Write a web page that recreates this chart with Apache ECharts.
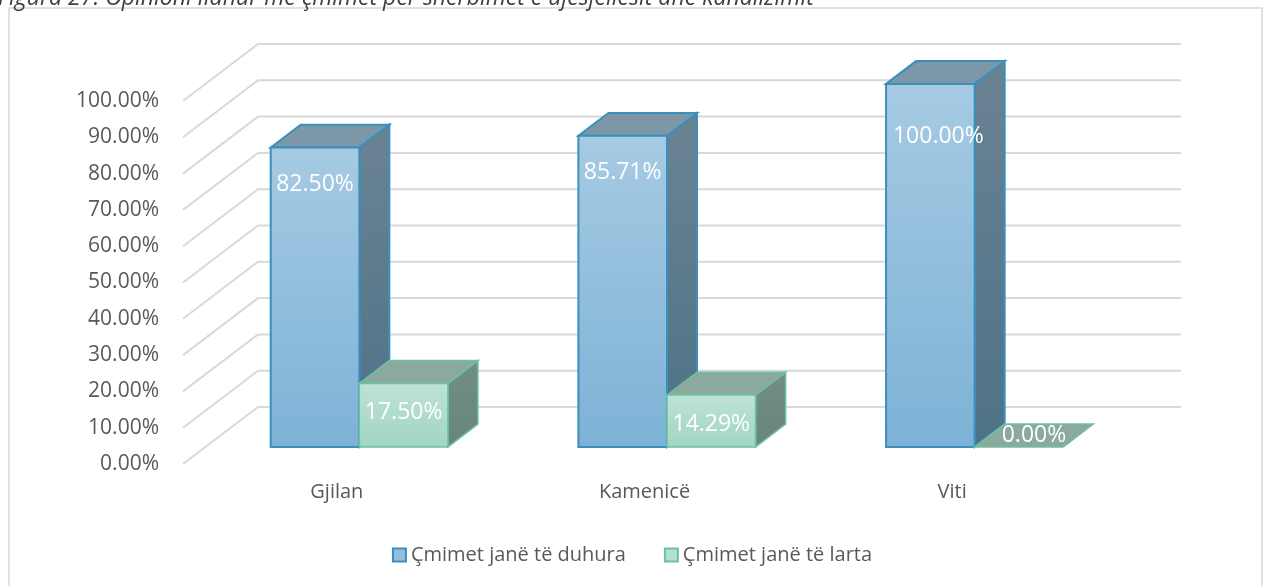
<!DOCTYPE html>
<html>
<head>
<meta charset="utf-8">
<script src="https://cdn.jsdelivr.net/npm/echarts@6/dist/echarts.min.js"></script>
<style>
	html, body { margin: 0; padding: 0; background: #fff; overflow: hidden; }
	#report_chart { width: 1264px; height: 586px; }
</style>
</head>
<body>
<div id="report_chart"></div>
<script>
var categories = ['Gjilan', 'Kamenicë', 'Viti'];
var seriesNames = ['Çmimet janë të duhura', 'Çmimet janë të larta'];
var duhura = [82.50, 85.71, 100.00];
var larta = [17.50, 14.29, 0.00];
var yTicks = [0, 10, 20, 30, 40, 50, 60, 70, 80, 90, 100];
var caption = 'Figura 27: Opinioni lidhur me çmimet për shërbimet e ujësjellësit dhe kanalizimit';

// oblique depth of the floor, and where the bars sit inside it
var DX = 75, DY = -57;
var F0 = 0.3, DEP = 0.4;
var FONT = '"Open Sans", sans-serif';

var faces = [
	{ front: ['#a6cae3', '#7db2d6'], side: ['#6a8393', '#4e7287'], top: '#7b97a8', edge: '#3a8fbd', lw: 2, dy: 37 },
	{ front: ['#bee3d6', '#a1d5c2'], side: ['#738f84', '#67857a'], top: '#8ba99c', edge: '#6cc1a2', lw: 1.5, dy: 29 }
];

function grad(c) {
	return new echarts.graphic.LinearGradient(0, 0, 0, 1, [
		{ offset: 0, color: c[0] },
		{ offset: 1, color: c[1] }
	]);
}

function wallItem(params, api) {
	var cs = params.coordSys;
	var y = api.coord([0, api.value(1)])[1];
	return {
		type: 'polyline',
		shape: { points: [[cs.x, y], [cs.x + DX, y + DY], [cs.x + cs.width + DX, y + DY]] },
		style: { stroke: '#d9d9d9', lineWidth: 2, fill: null },
		silent: true
	};
}

function barRenderer(sIdx) {
	var f = faces[sIdx];
	return function (params, api) {
		var cs = params.coordSys;
		var idx = api.value(0), v = api.value(1);
		var base = api.coord([idx, 0]);
		var topP = api.coord([idx, v]);
		var band = api.size([1, 0])[0];
		var w = band * 0.288;
		var x0 = base[0] - w + sIdx * w + F0 * DX;
		var yb = base[1] + F0 * DY;
		var yt = topP[1] + F0 * DY;
		var dx = DEP * DX, dy = DEP * DY;
		var lx = x0 + w / 2, ly = Math.max(yt + f.dy, cs.y + 35);
		if (ly > yt + f.dy) {
			lx += 8;
		}
		if (v === 0) {
			lx = x0 + w / 2 + dx / 2;
			ly = yb + dy / 2;
		}
		var children = [];
		if (yb - yt > 0.5) {
			children.push({
				type: 'polygon',
				shape: { points: [[x0 + w, yt], [x0 + w + dx, yt + dy], [x0 + w + dx, yb + dy], [x0 + w, yb]] },
				style: { fill: grad(f.side), stroke: f.edge, lineWidth: f.lw }
			});
		}
		children.push({
			type: 'polygon',
			shape: { points: [[x0, yt], [x0 + dx, yt + dy], [x0 + w + dx, yt + dy], [x0 + w, yt]] },
			style: { fill: f.top, stroke: f.edge, lineWidth: f.lw }
		});
		if (yb - yt > 0.5) {
			children.push({
				type: 'rect',
				shape: { x: x0, y: yt, width: w, height: yb - yt },
				style: { fill: grad(f.front), stroke: f.edge, lineWidth: f.lw }
			});
		}
		children.push({
			type: 'text',
			x: lx,
			y: ly,
			style: {
				text: v.toFixed(2) + '%',
				fill: '#ffffff',
				font: '23px ' + FONT,
				align: 'center',
				verticalAlign: 'middle'
			}
		});
		return { type: 'group', children: children };
	};
}

function initChart() {
	var dataA = duhura.map(function (v, i) { return [i, v]; });
	var dataB = larta.map(function (v, i) { return [i, v]; });
	var wallData = yTicks.map(function (v) { return [0, v]; });

	var option = {
		animation: false,
		backgroundColor: '#ffffff',
		textStyle: { fontFamily: FONT },
		graphic: [ {
			type: 'rect',
			shape: { x: 9, y: 8, width: 1253, height: 620 },
			style: { fill: null, stroke: '#d9d9d9', lineWidth: 1.5 },
			silent: true
		}, {
			type: 'text',
			x: -2,
			y: 10,
			style: {
				text: caption,
				font: 'italic 23px ' + FONT,
				fill: '#404040',
				align: 'left',
				verticalAlign: 'bottom'
			},
			silent: true
		} ],
		grid: {
			left: 183,
			right: 158,
			top: 101,
			bottom: 122
		},
		legend: {
			left: 'center',
			top: 540,
			icon: 'rect',
			itemWidth: 13,
			itemHeight: 13,
			itemGap: 38,
			textStyle: { color: '#595959', fontSize: 20, fontFamily: FONT },
			data: [
				{ name: seriesNames[0], itemStyle: { color: '#93bfdd', borderColor: faces[0].edge, borderWidth: 2 } },
				{ name: seriesNames[1], itemStyle: { color: '#b3ded0', borderColor: faces[1].edge, borderWidth: 2 } }
			]
		},
		xAxis: [ {
			type: 'category',
			data: categories,
			axisLine: { show: false },
			axisTick: { show: false },
			axisLabel: { color: '#595959', fontSize: 20, margin: 18, fontFamily: FONT }
		} ],
		yAxis: [ {
			type: 'value',
			min: 0,
			max: 100,
			interval: 10,
			axisLine: { show: false },
			axisTick: { show: false },
			splitLine: { show: false },
			axisLabel: {
				color: '#595959',
				fontSize: 21,
				margin: 24,
				fontFamily: FONT,
				formatter: function (v) { return v.toFixed(2) + '%'; }
			}
		} ],
		series: [ {
			name: 'wall',
			type: 'custom',
			silent: true,
			z: 1,
			renderItem: wallItem,
			data: wallData
		}, {
			name: seriesNames[0],
			type: 'custom',
			z: 2,
			itemStyle: { color: '#93bfdd', borderColor: faces[0].edge, borderWidth: 2 },
			renderItem: barRenderer(0),
			data: dataA
		}, {
			name: seriesNames[1],
			type: 'custom',
			z: 2,
			itemStyle: { color: '#b3ded0', borderColor: faces[1].edge, borderWidth: 2 },
			renderItem: barRenderer(1),
			data: dataB
		} ]
	};

	var myChart = echarts.init(document.getElementById('report_chart'));
	myChart.setOption(option);
	window.myChart = myChart;

	window.addEventListener('resize', function () {
		myChart.resize();
	});
}

initChart();
</script>
</body>
</html>
